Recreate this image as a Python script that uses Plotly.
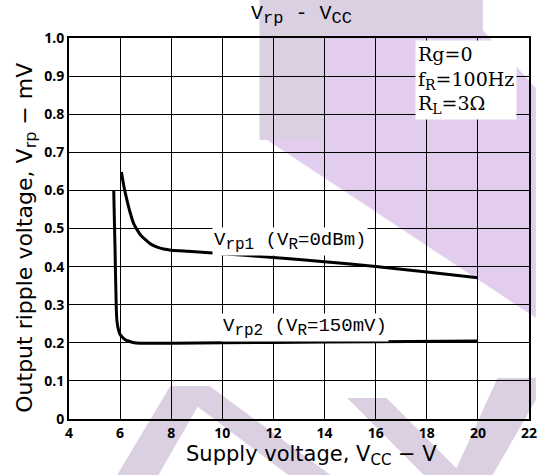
import plotly.graph_objects as go

# Supply voltage (V) and output ripple voltage (mV) for the two test conditions
vcc_rp1 = [6.05, 6.15, 6.27, 6.4, 6.53, 6.68, 6.8, 7.0, 7.2, 7.45, 7.7, 8.0, 8.65, 10, 12, 14, 16, 18, 20]
vrp1 = [0.648, 0.61, 0.574, 0.54, 0.513, 0.495, 0.483, 0.47, 0.459, 0.451, 0.446, 0.443, 0.44, 0.434,
        0.424, 0.413, 0.4, 0.386, 0.371]

vcc_rp2 = [5.75, 5.8, 5.85, 5.88, 5.93, 6.0, 6.1, 6.2, 6.35, 6.5, 6.8, 8, 12, 16, 20]
vrp2 = [0.60, 0.45, 0.29, 0.255, 0.236, 0.222, 0.214, 0.208, 0.204, 0.201, 0.199, 0.199, 0.201, 0.203, 0.205]

x_ticks = [4, 6, 8, 10, 12, 14, 16, 18, 20, 22]
y_ticks = [0, 0.1, 0.2, 0.3, 0.4, 0.5, 0.6, 0.7, 0.8, 0.9, 1.0]
y_tick_text = ["0", "0.1", "0.2", "0.3", "0.4", "0.5", "0.6", "0.7", "0.8", "0.9", "1.0"]

X_RANGE = [4, 22]
Y_RANGE = [0, 1.0]

W, H = 544, 475
ML, MR, MT, MB = 69, 7, 38, 56
PW, PH = W - ML - MR, H - MT - MB

MONO = "Liberation Mono"
SERIF = "DejaVu Serif"
SANS = "DejaVu Sans"


def to_paper(px, py):
    return (px - ML) / PW, (H - MB - py) / PH


def poly(points, color):
    pts = [to_paper(px, py) for px, py in points]
    path = "M " + " L ".join(f"{x:.4f},{y:.4f}" for x, y in pts) + " Z"
    return dict(type="path", xref="paper", yref="paper", path=path,
                fillcolor=color, line=dict(width=0), layer="below")


def low(txt, size, shift=4):
    # lowered, smaller index text
    return f"<span style='font-size:{size}px;baseline-shift:-{shift}px'>{txt}</span>"


# pale lettering printed behind the chart
LAV = "#e3cdee"
GREY = "#dbd0e2"
backdrop = [
    poly([(263, 0), (462, 0), (544, 88), (544, 318), (263, 135)], LAV),
    poly([(263, 0), (490, 0), (490, 34), (330, 34), (330, 140), (263, 140)], GREY),
    poly([(118, 475), (172, 386), (212, 386), (160, 475)], GREY),
    poly([(172, 386), (212, 386), (335, 475), (292, 475)], GREY),
    poly([(352, 398), (392, 398), (470, 475), (430, 475)], GREY),
    poly([(505, 378), (544, 378), (544, 400), (500, 475), (460, 475)], GREY),
]

fig = go.Figure()
for xs, ys in ((vcc_rp1, vrp1), (vcc_rp2, vrp2)):
    fig.add_trace(go.Scatter(x=xs, y=ys, mode="lines",
                             line=dict(color="black", width=3, shape="spline", smoothing=0.6),
                             showlegend=False, hoverinfo="skip"))

tick_font = dict(size=14, color="black")
fig.update_xaxes(range=X_RANGE, tickvals=x_ticks, ticktext=[f"<b>{v}</b>" for v in x_ticks],
                 showgrid=True, gridcolor="black", gridwidth=1,
                 showline=True, linecolor="black", linewidth=2, mirror=True, zeroline=False,
                 tickfont=tick_font)
fig.update_yaxes(range=Y_RANGE, tickvals=y_ticks, ticktext=[f"<b>{t}</b>" for t in y_tick_text],
                 showgrid=True, gridcolor="black", gridwidth=1,
                 showline=True, linecolor="black", linewidth=2, mirror=True, zeroline=False,
                 tickfont=tick_font)

annotations = [
    dict(x=9.6, y=0.465, xref="x", yref="y", xanchor="left", yanchor="middle", showarrow=False,
         text="V" + low("rp1", 16) + " (V" + low("R", 16) + "=0dBm)", bgcolor="white", borderpad=1,
         font=dict(family=MONO, size=19, color="black")),
    dict(x=9.95, y=0.24, xref="x", yref="y", xanchor="left", yanchor="middle", showarrow=False,
         text="V" + low("rp2", 16) + " (V" + low("R", 16) + "=150mV)", bgcolor="white", borderpad=1,
         font=dict(family=MONO, size=19, color="black")),
    dict(x=17.55, y=0.995, xref="x", yref="y", xanchor="left", yanchor="top", showarrow=False, align="left",
         text="Rg=0<br>f" + low("R", 14) + "=100Hz<br>R" + low("L", 14) + "=3Ω", bgcolor="white", borderpad=2,
         font=dict(family=SERIF, size=19, color="black")),
    # axis titles
    dict(x=(316 - ML) / PW, y=(H - MB - 456) / PH, xref="paper", yref="paper", xanchor="center",
         yanchor="middle", showarrow=False, text="Supply voltage, V" + low("CC", 15) + " − V",
         font=dict(family=SANS, size=21, color="black")),
    dict(x=(25 - ML) / PW, y=(H - MB - 238) / PH, xref="paper", yref="paper", xanchor="center",
         yanchor="middle", showarrow=False, textangle=-90,
         text="Output ripple voltage, V" + low("rp", 16) + " − mV",
         font=dict(family=SANS, size=22, color="black")),
    # chart title
    dict(x=(306 - ML) / PW, y=(H - MB - 15) / PH, xref="paper", yref="paper", xanchor="center",
         yanchor="middle", showarrow=False, text="V" + low("rp", 17) + " - V" + low("CC", 17),
         font=dict(family=MONO, size=20, color="black")),
]

fig.update_layout(
    width=W, height=H,
    margin=dict(l=ML, r=MR, t=MT, b=MB),
    paper_bgcolor="white", plot_bgcolor="white",
    shapes=backdrop,
    annotations=annotations,
)

fig.write_html("out.html")
